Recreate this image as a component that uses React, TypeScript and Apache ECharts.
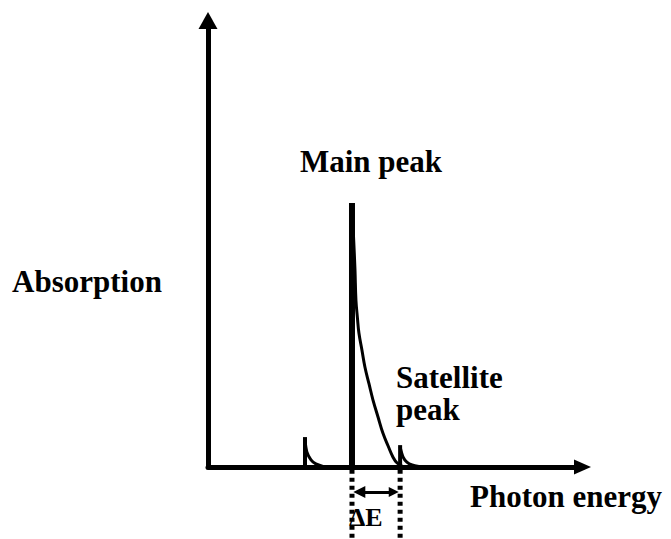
import React, { useEffect, useRef } from "react";
import * as echarts from "echarts";

// Positions in arbitrary units (x: photon energy, y: absorption)
const mainPeakX = 38.45;
const mainPeakHeight = 59.1;
const mainDecay: [number, number][] = [
  [38.45, 59.1],
  [38.9, 50.8],
  [39.25, 44.1],
  [39.5, 37.4],
  [39.9, 33.4],
  [40.3, 30.0],
  [41.1, 26.2],
  [41.9, 22.4],
  [43.0, 18.6],
  [44.06, 15.0],
  [45.4, 11.2],
  [46.7, 7.6],
  [48.1, 4.7],
  [49.4, 2.2],
  [50.5, 0.9],
  [51.8, 0.25],
];
const preEdgeX = 25.9;
const preEdgeHeight = 6.7;
const preEdgeDecay: [number, number][] = [
  [25.9, 6.0],
  [26.4, 3.4],
  [27.5, 1.6],
  [28.8, 0.7],
  [30.7, 0.15],
];
const satelliteX = 51.3;
const satelliteHeight = 4.9;
const satelliteDecay: [number, number][] = [
  [51.3, 4.5],
  [52.1, 2.2],
  [53.1, 1.1],
  [54.5, 0.45],
  [56.3, 0.1],
];
const dottedBottom = -16.3;
const deltaArrowY = -5.6;
const deltaArrowFrom = 40.4;
const deltaArrowTo = 49.6;

const labels = {
  yName: "Absorption",
  xName: "Photon energy",
  main: "Main peak",
  sat1: "Satellite",
  sat2: "peak",
  delta: "ΔE",
};

const FONT = "Liberation Serif";

export default function App() {
  const ref = useRef<HTMLDivElement>(null);
  useEffect(() => {
    if (!ref.current) return;
    const chart = echarts.init(ref.current, undefined, { renderer: "svg" });
    const black = "#000";
    const lineSeries = (data: [number, number][], width: number, extra: any = {}) => ({
      type: "line",
      data,
      symbol: "none",
      showSymbol: false,
      clip: false,
      silent: true,
      lineStyle: { color: black, width, ...(extra.lineStyle || {}) },
      smooth: extra.smooth ?? false,
      z: extra.z ?? 2,
    });
    const textStyle = (text: string, size: number) => ({
      text,
      fill: black,
      fontFamily: FONT,
      fontSize: size,
      fontWeight: "bold",
      verticalAlign: "middle",
      align: "left",
    });
    chart.setOption({
      animation: false,
      backgroundColor: "#fff",
      grid: { left: 208, right: 88.5, top: 20.5, bottom: 72, containLabel: false },
      xAxis: {
        type: "value",
        min: 0,
        max: 100,
        axisLine: {
          show: true,
          onZero: false,
          symbol: ["none", "triangle"],
          symbolSize: [15, 17],
          lineStyle: { color: black, width: 5 },
        },
        axisTick: { show: false },
        axisLabel: { show: false },
        splitLine: { show: false },
      },
      yAxis: {
        type: "value",
        min: 0,
        max: 100,
        axisLine: {
          show: true,
          onZero: false,
          symbol: ["none", "triangle"],
          symbolSize: [19, 17],
          lineStyle: { color: black, width: 5 },
        },
        axisTick: { show: false },
        axisLabel: { show: false },
        splitLine: { show: false },
      },
      series: [
        lineSeries([[mainPeakX, 0], [mainPeakX, mainPeakHeight]], 6, { z: 3 }),
        lineSeries(mainDecay, 3, { smooth: 0.4 }),
        lineSeries([[preEdgeX, 0], [preEdgeX, preEdgeHeight]], 4),
        lineSeries(preEdgeDecay, 3, { smooth: 0.3 }),
        lineSeries([[satelliteX, 0], [satelliteX, satelliteHeight]], 4),
        lineSeries(satelliteDecay, 3, { smooth: 0.3 }),
        lineSeries([[mainPeakX, -0.6], [mainPeakX, dottedBottom]], 5, { lineStyle: { type: [4, 4] } }),
        lineSeries([[satelliteX, -0.6], [satelliteX, dottedBottom]], 5, { lineStyle: { type: [4, 4] } }),
        {
          type: "lines",
          coordinateSystem: "cartesian2d",
          clip: false,
          silent: true,
          symbol: ["triangle", "triangle"],
          symbolSize: [12, 10],
          lineStyle: { color: black, width: 3, opacity: 1 },
          data: [{ coords: [[deltaArrowFrom, deltaArrowY], [deltaArrowTo, deltaArrowY]] }],
        },
      ],
      graphic: [
        { type: "text", x: 12, y: 281.5, style: textStyle(labels.yName, 31) },
        { type: "text", x: 300, y: 161.5, style: textStyle(labels.main, 31) },
        { type: "text", x: 396, y: 377.5, style: textStyle(labels.sat1, 31) },
        { type: "text", x: 396, y: 409.5, style: textStyle(labels.sat2, 31) },
        { type: "text", x: 470, y: 496.5, style: textStyle(labels.xName, 31) },
        { type: "text", x: 349, y: 517, style: textStyle(labels.delta, 26) },
      ],
    });
    return () => chart.dispose();
  }, []);
  return (
    <div
      ref={ref}
      style={{ position: "fixed", left: 0, top: 0, width: 671, height: 539, background: "#fff" }}
    />
  );
}
